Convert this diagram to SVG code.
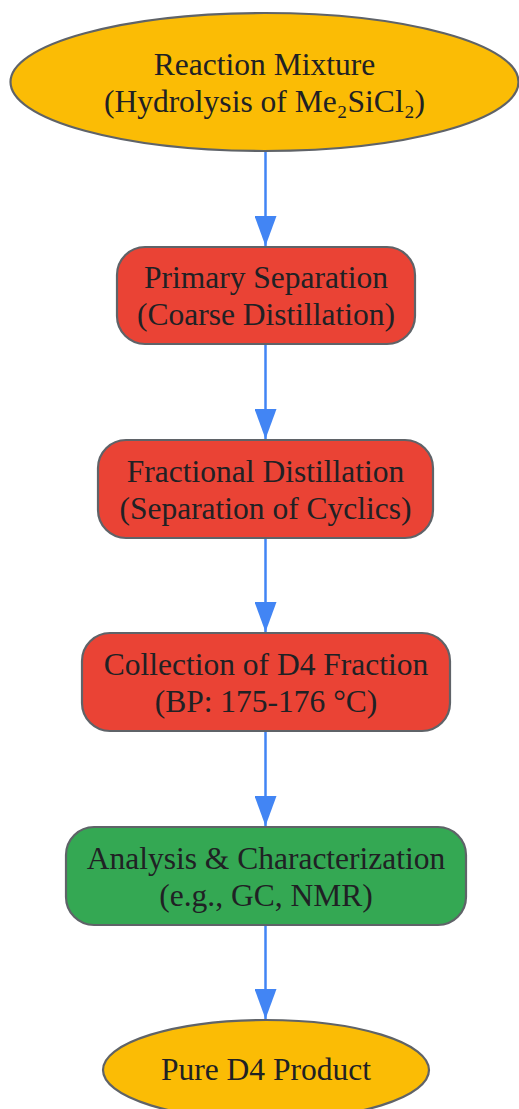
<svg xmlns="http://www.w3.org/2000/svg" width="519" height="1109" viewBox="0 0 519 1109">
  <style>
    .node { stroke: #5f6368; stroke-width: 2.2; }
    .yellow { fill: #FBBC05; }
    .red { fill: #EA4335; }
    .green { fill: #34A853; }
    .label { font-family: "Liberation Serif", "Times New Roman", serif; font-size: 31.5px; fill: #202124; text-anchor: middle; }
    .edge { stroke: #4285F4; stroke-width: 2.5; fill: none; }
  </style>
  <defs>
    <marker id="arrow" viewBox="0 0 30 22" refX="30" refY="11" markerWidth="30" markerHeight="22" orient="auto" markerUnits="userSpaceOnUse">
      <path d="M0,0 L30,11 L0,22 z" fill="#4285F4"/>
    </marker>
  </defs>
  <rect width="519" height="1109" fill="#ffffff"/>

  <g id="connectors">
    <line class="edge" x1="265.5" y1="151" x2="265.5" y2="246" marker-end="url(#arrow)"/>
    <line class="edge" x1="265.5" y1="344" x2="265.5" y2="439" marker-end="url(#arrow)"/>
    <line class="edge" x1="265.5" y1="538" x2="265.5" y2="632" marker-end="url(#arrow)"/>
    <line class="edge" x1="265.5" y1="731" x2="265.5" y2="826" marker-end="url(#arrow)"/>
    <line class="edge" x1="265.5" y1="925" x2="265.5" y2="1019" marker-end="url(#arrow)"/>
  </g>

  <g id="reaction-mixture">
    <ellipse class="node yellow" cx="264.5" cy="82" rx="254" ry="69"/>
    <text class="label" x="264.5" y="75">Reaction Mixture</text>
    <text class="label" x="264.5" y="112">(Hydrolysis of Me₂SiCl₂)</text>
  </g>

  <g id="primary-separation">
    <rect class="node red" x="117" y="247" width="298" height="97" rx="28" ry="28"/>
    <text class="label" x="266" y="288">Primary Separation</text>
    <text class="label" x="266" y="325">(Coarse Distillation)</text>
  </g>

  <g id="fractional-distillation">
    <rect class="node red" x="98" y="440" width="335" height="98" rx="28" ry="28"/>
    <text class="label" x="265.5" y="481.5">Fractional Distillation</text>
    <text class="label" x="265.5" y="518.5">(Separation of Cyclics)</text>
  </g>

  <g id="collection-d4">
    <rect class="node red" x="82" y="633" width="368" height="98" rx="28" ry="28"/>
    <text class="label" x="266" y="674.5">Collection of D4 Fraction</text>
    <text class="label" x="266" y="711.5">(BP: 175-176 °C)</text>
  </g>

  <g id="analysis">
    <rect class="node green" x="66" y="827" width="400" height="98" rx="28" ry="28"/>
    <text class="label" x="266" y="868.5">Analysis &amp; Characterization</text>
    <text class="label" x="266" y="905.5">(e.g., GC, NMR)</text>
  </g>

  <g id="pure-d4">
    <ellipse class="node yellow" cx="266" cy="1070" rx="163" ry="50"/>
    <text class="label" x="266" y="1080">Pure D4 Product</text>
  </g>
</svg>
